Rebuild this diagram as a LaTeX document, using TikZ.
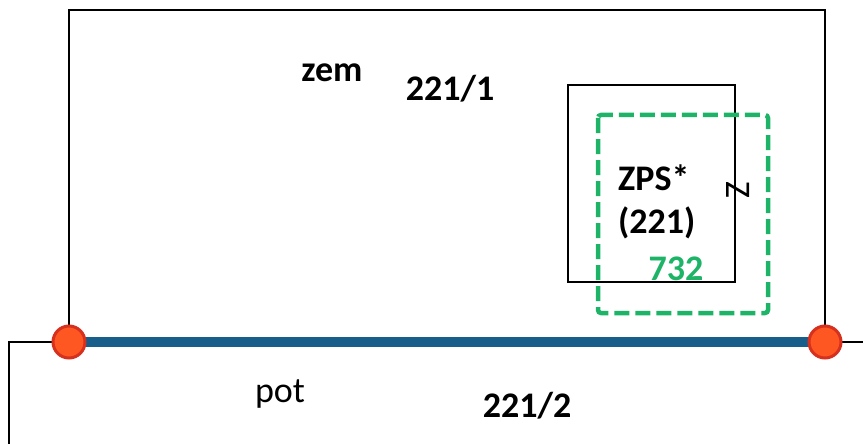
\documentclass[tikz,border=0pt]{standalone}
\usepackage{fontspec}
\setmainfont{Carlito}
\definecolor{hranice}{RGB}{24,94,138}
\definecolor{bodfill}{RGB}{255,87,34}
\definecolor{boddraw}{RGB}{214,48,30}
\definecolor{zps}{RGB}{29,180,104}

\begin{document}
\begin{tikzpicture}[x = 1pt, y = -1pt,
	line/.style = {draw = black, line width = 1.6pt},
	popis/.style = {inner sep = 0pt, font = \fontsize{36}{40}\selectfont},
	cislo/.style = {popis, font = \fontsize{36}{40}\selectfont\bfseries},
	bod/.style = {circle, fill = bodfill, draw = boddraw, line width = 3pt, minimum size = 32pt, inner sep = 0pt}]
	\useasboundingbox (0,0) rectangle (863,444);
	% parcely
	\draw[line] (69,342) -- (69,10) -- (825,10) -- (825,342);
	\draw[line] (9,444) -- (9,342) -- (863,342);
	\draw[line] (568,85) rectangle (735,282);
	\draw[zps, line width = 4.5pt, dash pattern = on 15pt off 6pt, rounded corners = 3pt] (598,115) rectangle (768,313);
	% hranice a body
	\coordinate (levy) at (69,342);
	\coordinate (pravy) at (825,342);
	\draw[hranice, line width = 10pt] (levy) -- (pravy);
	\foreach \b in {levy, pravy} {
		\node[bod] at (\b) {};
	}
	% texty
	\node[cislo, anchor = base] (zem) at (332,82) {zem};
	\node[cislo, anchor = base] (p1) at (450,100) {221/1};
	\node[popis, anchor = base] (pot) at (280,402) {pot};
	\node[cislo, anchor = base] (p2) at (527,417) {221/2};
	\node[cislo, anchor = base west] (zpsa) at (618,190) {ZPS*};
	\node[cislo, anchor = base west] (zpsb) at (618,233) {(221)};
	\node[cislo, anchor = base, text = zps] (kod) at (676,280) {732};
	\node[popis, rotate = -90] (z) at (738,190) {Z};
\end{tikzpicture}
\end{document}
